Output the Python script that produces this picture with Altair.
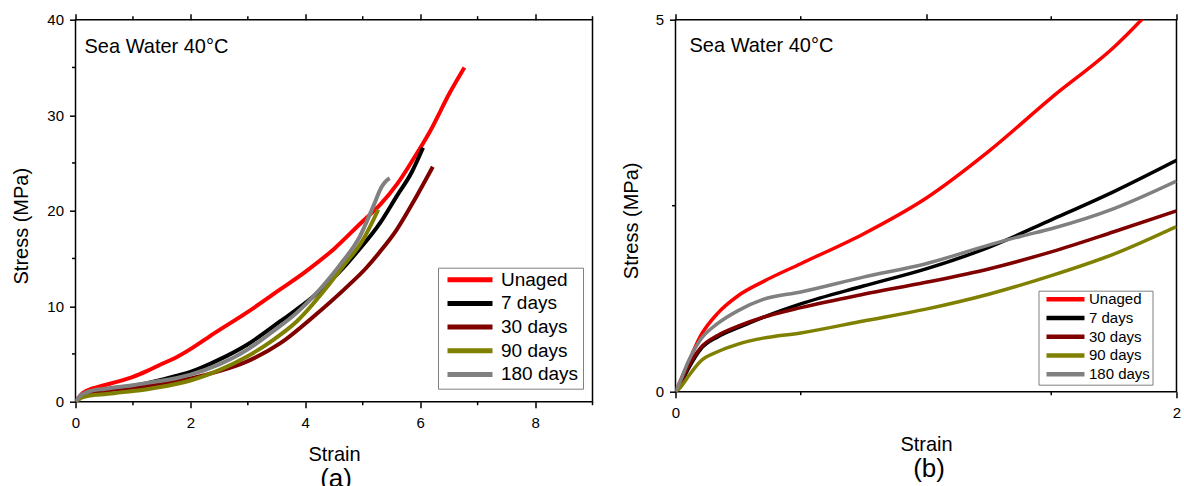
import altair as alt
import pandas as pd

FONT = "Liberation Sans"

series_names = ["Unaged", "7 days", "30 days", "90 days", "180 days"]
series_colors = ["#ff0000", "#000000", "#800000", "#808000", "#808080"]

unaged_strain = [0, 0.02, 0.04, 0.1, 0.17, 0.25, 0.35, 0.5, 0.75, 1.0, 1.25, 1.5, 1.75, 2.0, 2.4, 3.0, 3.5, 4.0, 4.5, 5.0, 5.3, 5.6, 5.87, 6.17, 6.52, 6.77]
unaged_stress = [0, 0.15, 0.3, 0.75, 1.06, 1.29, 1.48, 1.72, 2.12, 2.6, 3.23, 3.95, 4.63, 5.5, 7.1, 9.4, 11.5, 13.6, 16.0, 18.9, 20.6, 22.8, 25.3, 28.3, 32.4, 35.0]

d7_strain = [0, 0.02, 0.05, 0.1, 0.17, 0.25, 0.35, 0.5, 0.75, 1.0, 1.25, 1.5, 1.75, 2.0, 2.5, 2.98, 3.56, 4.14, 4.66, 4.89, 5.3, 5.59, 5.85, 6.05]
d7_stress = [0, 0.1, 0.3, 0.57, 0.74, 0.86, 1.0, 1.18, 1.42, 1.65, 1.94, 2.31, 2.69, 3.11, 4.4, 5.94, 8.4, 11.0, 14.0, 15.6, 18.7, 21.5, 24.0, 26.6]

d30_strain = [0, 0.02, 0.05, 0.1, 0.17, 0.25, 0.35, 0.5, 0.75, 1.0, 1.25, 1.5, 1.75, 2.0, 2.5, 2.98, 3.56, 4.14, 4.72, 5.06, 5.3, 5.59, 5.87, 6.22]
d30_stress = [0, 0.12, 0.33, 0.59, 0.76, 0.88, 1.0, 1.13, 1.31, 1.47, 1.65, 1.88, 2.15, 2.43, 3.2, 4.2, 6.1, 8.9, 12.0, 14.0, 15.7, 18.0, 20.8, 24.6]

d90_strain = [0, 0.02, 0.05, 0.1, 0.17, 0.25, 0.35, 0.5, 0.75, 1.0, 1.25, 1.5, 1.75, 2.0, 2.5, 2.98, 3.4, 3.85, 4.43, 4.66, 5.0, 5.27]
d90_stress = [0, 0.06, 0.2, 0.41, 0.54, 0.64, 0.72, 0.79, 0.95, 1.11, 1.31, 1.56, 1.85, 2.22, 3.3, 4.7, 6.3, 8.4, 12.4, 14.2, 16.9, 20.1]

d180_strain = [0, 0.02, 0.05, 0.1, 0.17, 0.25, 0.35, 0.5, 0.75, 1.0, 1.25, 1.38, 1.5, 1.75, 2.0, 2.5, 2.98, 3.4, 3.85, 4.43, 4.6, 4.95, 5.18, 5.33, 5.42, 5.47]
d180_stress = [0, 0.15, 0.4, 0.70, 0.92, 1.09, 1.24, 1.34, 1.54, 1.72, 1.97, 2.09, 2.19, 2.46, 2.83, 3.9, 5.4, 7.2, 9.3, 13.0, 14.3, 17.3, 20.4, 22.5, 23.2, 23.4]

all_strain = [unaged_strain, d7_strain, d30_strain, d90_strain, d180_strain]
all_stress = [unaged_stress, d7_stress, d30_stress, d90_stress, d180_stress]

rows = []
for name, xs, ys in zip(series_names, all_strain, all_stress):
    for x, y in zip(xs, ys):
        rows.append({"series": name, "strain": x, "stress": y})
df = pd.DataFrame(rows)

a_xmajor = [0, 2, 4, 6, 8]
a_xminor = [1, 3, 5, 7, 9]
a_ymajor = [0, 10, 20, 30, 40]
a_yminor = [5, 15, 25, 35]
b_xmajor = [0, 1, 2]
b_xminor = [0.5, 1.5]
b_ymajor = [0, 5]
b_yminor = [2.5]

annot_text = "Sea Water 40°C"
MINOR = 3.5


def make_panel(data, xmax, ymax, xmajor, xminor, ymajor, yminor, width, height,
               legend_kw, line_width, annot_xy, y_title_x, y_title_y,
               x_title_y, tag, tag_xy):
    xs = alt.Scale(domain=[0, xmax], nice=False, zero=False)
    ys = alt.Scale(domain=[0, ymax], nice=False, zero=False)
    x_axis = alt.Axis(values=xmajor, format="d", tickSize=6, labelPadding=8, title="Strain",
                      titleY=x_title_y, titleBaseline="alphabetic")
    y_axis = alt.Axis(values=ymajor, format="d", tickSize=6, labelPadding=6, title="Stress (MPa)",
                      titleX=y_title_x, titleY=y_title_y, titleBaseline="alphabetic",
                      titleAlign="center", titleAngle=270)
    color = alt.Color("series:N",
                      scale=alt.Scale(domain=series_names, range=series_colors),
                      legend=alt.Legend(title=None, orient="none", symbolType="stroke",
                                        labelFont=FONT, labelColor="black", labelLimit=0,
                                        strokeColor="#808080", fillColor="white",
                                        **legend_kw))
    line_layers = []
    for name in series_names:
        line_layers.append(
            alt.Chart(data).transform_filter(alt.datum.series == name)
            .mark_line(strokeWidth=line_width, interpolate="monotone", clip=True)
            .encode(x=alt.X("strain:Q", scale=xs, axis=x_axis),
                    y=alt.Y("stress:Q", scale=ys, axis=y_axis),
                    color=color)
        )
    lines = alt.layer(*line_layers)
    top = (alt.Chart(data).mark_point(opacity=0, clip=True)
           .encode(x=alt.X("strain:Q", scale=xs,
                           axis=alt.Axis(orient="top", values=xmajor, labels=False,
                                         tickSize=6, title=None)),
                   y=alt.Y("stress:Q", scale=ys, axis=None)))
    xmin_df = pd.DataFrame({"v": xminor})
    ymin_df = pd.DataFrame({"v": yminor})
    tick_style = dict(color="black", strokeWidth=1.5)
    minor_bottom = (alt.Chart(xmin_df).mark_rule(**tick_style)
                    .encode(x=alt.X("v:Q", scale=xs, axis=None),
                            y=alt.value(height), y2=alt.value(height + MINOR)))
    minor_top = (alt.Chart(xmin_df).mark_rule(**tick_style)
                 .encode(x=alt.X("v:Q", scale=xs, axis=None),
                         y=alt.value(-MINOR), y2=alt.value(0)))
    minor_left = (alt.Chart(ymin_df).mark_rule(**tick_style)
                  .encode(y=alt.Y("v:Q", scale=ys, axis=None),
                          x=alt.value(-MINOR), x2=alt.value(0)))
    annot_df = pd.DataFrame({"t": [annot_text], "x": [annot_xy[0]], "y": [annot_xy[1]]})
    annot = (alt.Chart(annot_df)
             .mark_text(align="left", baseline="alphabetic", font=FONT, fontSize=20, color="black")
             .encode(x=alt.X("x:Q", scale=xs, axis=None), y=alt.Y("y:Q", scale=ys, axis=None),
                     text="t:N"))
    tag_df = pd.DataFrame({"t": [tag]})
    tagm = (alt.Chart(tag_df)
            .mark_text(align="center", baseline="alphabetic", font=FONT, fontSize=26, color="black")
            .encode(x=alt.value(tag_xy[0]), y=alt.value(tag_xy[1]), text="t:N"))
    return (alt.layer(lines, top, minor_bottom, minor_top, minor_left, annot, tagm)
            .resolve_axis(x="independent", y="independent")
            .properties(width=width, height=height))


df_b = df[df["strain"] <= 2.0]

panel_a = make_panel(
    df, 9, 40, a_xmajor, a_xminor, a_ymajor, a_yminor, 517, 382,
    dict(legendX=362.5, legendY=248, symbolSize=45 ** 2, symbolStrokeWidth=5,
         clipHeight=16, rowPadding=4.7, padding=4, symbolOffset=3, labelOffset=6,
         labelFontSize=19),
    4, (0.157, 36.55), -48.5, 206, 59, "(a)", (260.5, 467))

panel_b = make_panel(
    df_b, 2, 5, b_xmajor, b_xminor, b_ymajor, b_yminor, 501, 372,
    dict(legendX=363, legendY=271, symbolSize=38 ** 2, symbolStrokeWidth=4.5,
         clipHeight=12, rowPadding=3.75, padding=2.5, symbolOffset=3, labelOffset=2,
         labelFontSize=15),
    3.5, (0.056, 4.56), -38, 200.7, 58.5, "(b)", (253.6, 457))

chart = (alt.hconcat(panel_a, panel_b, spacing=83, bounds="flush")
         .resolve_scale(color="independent")
         .resolve_legend(color="independent")
         .properties(padding={"left": 9.5, "top": 11.7, "right": 0, "bottom": 0},
                     background="white")
         .configure_view(stroke="black", strokeWidth=1.5)
         .configure_axis(labelFont=FONT, labelFontSize=15, labelColor="black",
                         tickColor="black", tickWidth=1.5, titleFont=FONT,
                         titleFontSize=20, titleColor="black", titleFontWeight="normal",
                         domain=False, grid=False, labelFlush=False, labelOverlap=False))

chart.save("out.html", embed_options={"renderer": "svg", "actions": False})
